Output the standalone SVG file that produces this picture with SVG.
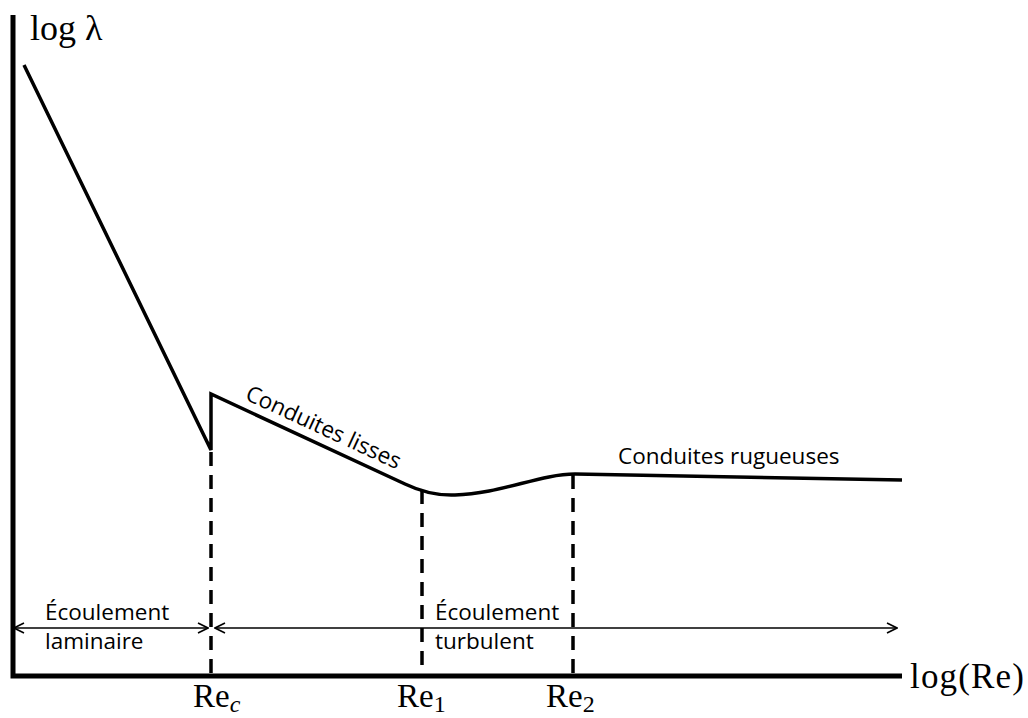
<svg xmlns="http://www.w3.org/2000/svg" width="1028" height="718" viewBox="0 0 1028 718">
<style>
.axis{stroke:#000;stroke-width:5;fill:none}
.curve{stroke:#000;stroke-width:3.5;fill:none;stroke-linejoin:miter}
.dash{stroke:#000;stroke-width:3.5;stroke-dasharray:14 9;fill:none}
.arr{stroke:#000;stroke-width:1.6;fill:none}
.serif{font-family:"Liberation Serif","DejaVu Serif",serif;fill:#000}
.sans{font-family:"Open Sans","DejaVu Sans",sans-serif;fill:#000;font-size:22.5px}
</style>
<defs>
<marker id="ah" viewBox="0 0 12 12" refX="11" refY="6" markerWidth="12" markerHeight="12" markerUnits="userSpaceOnUse" orient="auto-start-reverse">
<path d="M1,1 L11,6 L1,11" fill="none" stroke="#000" stroke-width="1.6"/>
</marker>
</defs>
<g id="axes">
<path class="axis" d="M13,15 L13,676 L902,676"/>
<text class="serif" x="30" y="40" font-size="36">log λ</text>
<text class="serif" x="910" y="688" font-size="35" textLength="114">log(Re)</text>
</g>
<g id="curve">
<path class="curve" d="M24,65 L211,450 L211,394 L405,484 Q430,496 455,495 C500,494 540,474 575,474 L902,480"/>
<text class="sans" transform="translate(244,399) rotate(24.8)">Conduites lisses</text>
<text class="sans" x="618" y="464">Conduites rugueuses</text>
</g>
<g id="connectors">
<line class="dash" x1="211" y1="452" x2="211" y2="676"/>
<line class="dash" x1="422" y1="490" x2="422" y2="676"/>
<line class="dash" x1="573" y1="475" x2="573" y2="676"/>
<line class="arr" x1="14" y1="628" x2="208" y2="628" marker-start="url(#ah)" marker-end="url(#ah)"/>
<line class="arr" x1="215" y1="628" x2="897" y2="628" marker-start="url(#ah)" marker-end="url(#ah)"/>
</g>
<g id="labels">
<text class="sans" x="45" y="620">Écoulement</text>
<text class="sans" x="45" y="649">laminaire</text>
<text class="sans" x="435" y="620">Écoulement</text>
<text class="sans" x="435" y="649">turbulent</text>
<text class="serif" x="193" y="707" font-size="33">Re<tspan font-size="24" font-style="italic" dy="5">c</tspan></text>
<text class="serif" x="397" y="707" font-size="33">Re<tspan font-size="24" dy="5">1</tspan></text>
<text class="serif" x="546" y="707" font-size="33">Re<tspan font-size="24" dy="5">2</tspan></text>
</g>
</svg>
